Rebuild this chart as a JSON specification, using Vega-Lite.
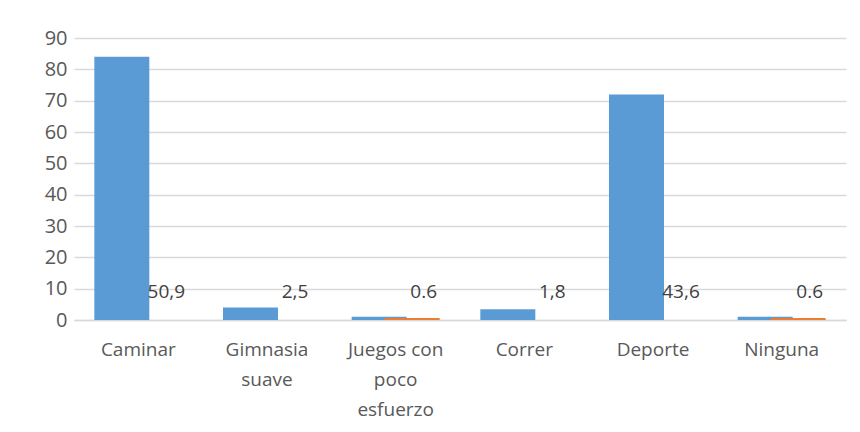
{
  "$schema": "https://vega.github.io/schema/vega-lite/v6.json",
  "width": 772,
  "height": 282,
  "autosize": {"type": "none"},
  "padding": {"left": 74, "top": 38, "right": 14, "bottom": 112},
  "background": "white",
  "config": {
    "view": {"stroke": null},
    "font": "Open Sans"
  },
  "data": {
    "values": [
      {"actividad": "Caminar", "serie": "A", "valor": 84, "etiqueta": ""},
      {"actividad": "Gimnasia suave", "serie": "A", "valor": 4, "etiqueta": ""},
      {"actividad": "Juegos con poco esfuerzo", "serie": "A", "valor": 1, "etiqueta": ""},
      {"actividad": "Correr", "serie": "A", "valor": 3.4, "etiqueta": ""},
      {"actividad": "Deporte", "serie": "A", "valor": 72, "etiqueta": ""},
      {"actividad": "Ninguna", "serie": "A", "valor": 1, "etiqueta": ""},
      {"actividad": "Caminar", "serie": "B", "valor": 0, "etiqueta": "50,9"},
      {"actividad": "Gimnasia suave", "serie": "B", "valor": 0, "etiqueta": "2,5"},
      {"actividad": "Juegos con poco esfuerzo", "serie": "B", "valor": 0.6, "etiqueta": "0.6"},
      {"actividad": "Correr", "serie": "B", "valor": 0, "etiqueta": "1,8"},
      {"actividad": "Deporte", "serie": "B", "valor": 0, "etiqueta": "43,6"},
      {"actividad": "Ninguna", "serie": "B", "valor": 0.6, "etiqueta": "0.6"}
    ]
  },
  "encoding": {
    "x": {
      "field": "actividad",
      "type": "nominal",
      "sort": null,
      "scale": {"paddingInner": 0, "paddingOuter": 0},
      "axis": {
        "title": null,
        "labelAngle": 0,
        "labelFontSize": 19,
        "labelColor": "#595959",
        "labelPadding": 20,
        "labelLineHeight": 30,
        "labelBaseline": "top",
        "labelOverlap": false,
        "labelExpr": "datum.label == 'Gimnasia suave' ? ['Gimnasia', 'suave'] : datum.label == 'Juegos con poco esfuerzo' ? ['Juegos con', 'poco', 'esfuerzo'] : datum.label",
        "ticks": false,
        "domainColor": "#d9d9d9",
        "domainWidth": 1.5
      }
    },
    "y": {
      "field": "valor",
      "type": "quantitative",
      "scale": {"domain": [0, 90], "nice": false},
      "axis": {
        "title": null,
        "values": [0, 10, 20, 30, 40, 50, 60, 70, 80, 90],
        "labelOverlap": false,
        "labelFontSize": 20,
        "labelColor": "#595959",
        "labelPadding": 7,
        "ticks": false,
        "domain": false,
        "gridColor": "#d9d9d9",
        "gridWidth": 1.5
      }
    }
  },
  "layer": [
    {
      "transform": [{"filter": "datum.serie == 'A'"}],
      "mark": {"type": "bar", "width": 55, "xOffset": -16.5, "color": "#5b9bd5"}
    },
    {
      "transform": [{"filter": "datum.serie == 'B'"}],
      "mark": {"type": "bar", "width": 55, "xOffset": 16.5, "color": "#ed7d31"}
    },
    {
      "transform": [{"filter": "datum.serie == 'B'"}],
      "mark": {"type": "text", "xOffset": 28, "align": "center", "baseline": "alphabetic", "fontSize": 19, "color": "#404040"},
      "encoding": {
        "y": {"datum": 7, "type": "quantitative"},
        "text": {"field": "etiqueta"}
      }
    }
  ]
}
